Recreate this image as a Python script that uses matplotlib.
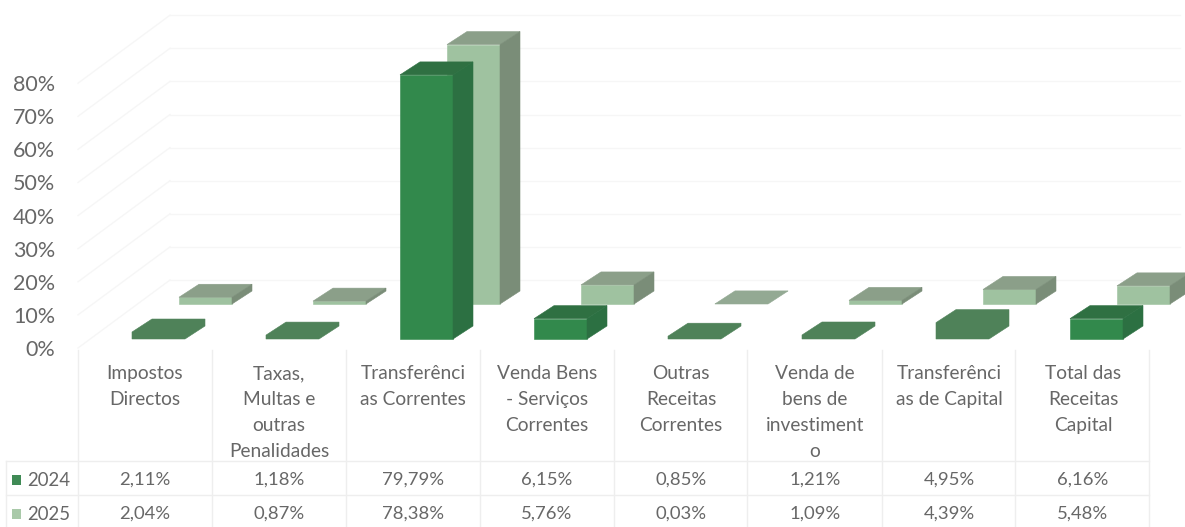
import matplotlib
matplotlib.use("Agg")
import matplotlib.pyplot as plt
from matplotlib.patches import Rectangle

plt.rcParams['font.family'] = ['Lato', 'DejaVu Sans']

categories = ["Impostos\nDirectos", "Taxas,\nMultas e\noutras\nPenalidades",
              "Transferênci\nas Correntes", "Venda Bens\n- Serviços\nCorrentes",
              "Outras\nReceitas\nCorrentes", "Venda de\nbens de\ninvestiment\no",
              "Transferênci\nas de Capital", "Total das\nReceitas\nCapital"]
values_2024 = [2.11, 1.18, 79.79, 6.15, 0.85, 1.21, 4.95, 6.16]
values_2025 = [2.04, 0.87, 78.38, 5.76, 0.03, 1.09, 4.39, 5.48]
labels_2024 = ["2,11%", "1,18%", "79,79%", "6,15%", "0,85%", "1,21%", "4,95%", "6,16%"]
labels_2025 = ["2,04%", "0,87%", "78,38%", "5,76%", "0,03%", "1,09%", "4,39%", "5,48%"]
y_ticks = [0, 10, 20, 30, 40, 50, 60, 70, 80]

# scale of the picture: one category = 134 px, 1% = 3.31 px
W, H = 1185, 527
CAT_PX = 134.0
PCT_PX = 3.31
X0_PX = 145.0   # centre of first column
Y0_PX = 339.0   # foot of the 2024 bars


def px_x(p):
    return (p - X0_PX) / CAT_PX


def px_y(p):
    return (Y0_PX - p) / PCT_PX


fig = plt.figure(figsize=(W / 100, H / 100), dpi=100)
ax = fig.add_axes([0, 0, 1, 1])
ax.set_xlim(px_x(0), px_x(W))
ax.set_ylim(px_y(H), px_y(0))
ax.axis('off')

text_col = '#676767'
grid_col = '#f6f6f6'
table_col = '#eeeeee'

# walls: left wall diagonals + back lines
wall_dx = 92 / CAT_PX
wall_dy = 68 / PCT_PX
floor = px_y(348)
for v in y_ticks:
    ax.plot([px_x(78), px_x(78) + wall_dx], [floor + v, floor + v + wall_dy],
            color=grid_col, lw=1.0, zorder=1)
    ax.plot([px_x(78) + wall_dx, px_x(1180)], [floor + v + wall_dy] * 2,
            color=grid_col, lw=1.0, zorder=1)

bar_w = 53 / CAT_PX
depth_x = 20 / CAT_PX
depth_y = 13 / PCT_PX


def draw_bars(vals, x_off, base, front, top, side, flat, flat_col, z):
    for i, v in enumerate(vals):
        left = i + x_off
        right = left + bar_w
        if i in flat:
            # these come out as one flat shape in the original, no shaded faces
            ax.fill([left, right, right + depth_x, right + depth_x, left + depth_x, left],
                    [base, base, base + depth_y, base + v + depth_y, base + v + depth_y, base + v],
                    facecolor=flat_col, edgecolor=flat_col, lw=0.4, zorder=z)
            continue
        ax.bar(left, v, width=bar_w, bottom=base, align='edge', color=front,
               edgecolor=front, lw=0.4, zorder=z)
        ax.fill([left, right, right + depth_x, left + depth_x],
                [base + v, base + v, base + v + depth_y, base + v + depth_y],
                facecolor=top, edgecolor=top, lw=0.4, zorder=z)
        ax.fill([right, right + depth_x, right + depth_x, right],
                [base, base + depth_y, base + v + depth_y, base + v],
                facecolor=side, edgecolor=side, lw=0.4, zorder=z)


# back series first so 2024 sits in front of it
draw_bars(values_2025, px_x(179), 35 / PCT_PX, '#9fc2a0', '#8b9f89', '#7a8d78',
          [4], '#93a993', 3)
draw_bars(values_2024, px_x(132), 0, '#32894c', '#2f7042', '#2c7042',
          [0, 1, 4, 5, 6], '#4f8259', 4)

# table lines
col_edges = [78, 212, 346, 480, 614, 747, 882, 1015, 1149]
for e in col_edges:
    ax.plot([px_x(e)] * 2, [px_y(350), px_y(H)], color=table_col, lw=1.0, zorder=1)
ax.plot([px_x(6)] * 2, [px_y(461), px_y(H)], color=table_col, lw=1.0, zorder=1)
for row_y in [461, 495]:
    ax.plot([px_x(6), px_x(1149)], [px_y(row_y)] * 2, color=table_col, lw=1.0, zorder=1)

# y axis labels
for v in y_ticks:
    ax.text(px_x(55), floor + v - 0.6, f"{v}%", ha='right', va='center',
            color=text_col, fontsize=15.5)

# category names + data rows
for i, name in enumerate(categories):
    ax.text(i, px_y(365), name, ha='center', va='top', color=text_col,
            fontsize=13.8, linespacing=1.64)
    ax.text(i, px_y(480), labels_2024[i], ha='center', va='center', color=text_col, fontsize=13.3)
    ax.text(i, px_y(514), labels_2025[i], ha='center', va='center', color=text_col, fontsize=13.3)

# row headers with legend keys
for year, row_y, key_col in [("2024", 480, '#3f8a55'), ("2025", 514, '#a9c9a9')]:
    ax.add_patch(Rectangle((px_x(12), px_y(row_y + 5)), 9 / CAT_PX, 10 / PCT_PX,
                           color=key_col, lw=0, zorder=3))
    ax.text(px_x(27), px_y(row_y), year, ha='left', va='center', color=text_col, fontsize=13.4)

fig.savefig("out.png", dpi=100)
